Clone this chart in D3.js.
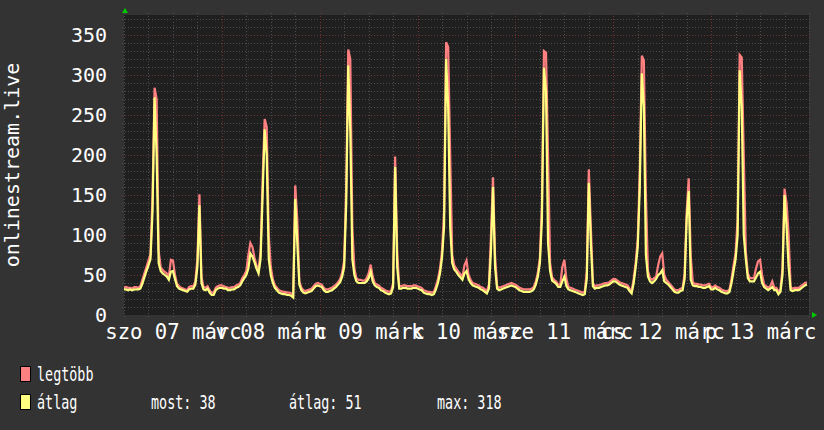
<html lang="hu">
<head>
<meta charset="utf-8">
<title>onlinestream.live</title>
<script type="text/javascript" src="https://cdnjs.cloudflare.com/ajax/libs/d3/7.8.5/d3.min.js"></script>
<style>
  body { margin: 0; background-color: #333333; }
  svg { display: block; }
  text { font-family: "DejaVu Sans Mono", monospace; fill: #ffffff; }
  .grid line { fill: none; shape-rendering: crispEdges; stroke-dasharray: 1,2; }
  .grid path { display: none; }
  .minor line { stroke: #4c4c4c; }
  .major line { stroke: #6e3232; }
  .axis path, .axis line { display: none; }
</style>
</head>
<body>
<script type="text/javascript">
// data: one value every 30 minutes, sat 07 march 00:00 -> fri 13 march ~23:30

var dayLabels = ["szo 07 márc", "v 08 márc", "h 09 márc", "k 10 márc", "sze 11 márc", "cs 12 márc", "p 13 márc"];
var yTicks = [0, 50, 100, 150, 200, 250, 300, 350];
var seriesNames = ["legtöbb", "átlag"];
var statLabels = ["most: 38", "átlag: 51", "max: 318"];

// átlag (average)
var avgValues = [
  32,32,31,32,31,32,32,32, 33,39,47,55,62,70,130,272, 200,65,55,52,50,48,44,54, 55,45,36,33,32,31,30,29, 32,33,33,38,60,137,40,32, 31,33,28,25,25,31,33,34,
  34,33,33,31,31,32,32,34, 35,37,42,46,50,58,77,73, 66,58,52,70,150,232,200,70, 50,40,34,31,28,27,26,26, 25,25,24,22,145,90,38,31, 28,27,28,29,30,33,36,37,
  36,35,31,29,29,30,31,33, 35,38,41,48,60,140,312,230, 70,50,42,40,40,40,40,42, 46,54,42,37,35,34,31,30, 28,27,26,27,35,185,60,33, 33,34,34,33,33,33,34,34,
  33,32,31,28,27,26,26,25, 26,32,40,52,72,110,320,260, 110,65,57,54,50,47,44,52, 55,45,40,37,36,35,34,32, 31,29,27,33,80,160,60,33, 31,32,33,34,35,36,37,36,
  35,33,31,30,29,29,29,29, 30,32,38,48,65,120,309,280, 90,55,43,41,39,35,35,42, 48,36,32,31,30,29,28,27, 26,25,26,45,165,90,36,33, 34,34,35,36,37,37,38,40,
  42,42,40,38,37,36,35,34, 30,27,40,60,85,160,302,260, 75,48,42,40,42,45,50,52, 56,42,40,38,35,32,29,28, 28,30,31,45,120,155,44,37, 36,36,35,35,34,34,35,36,
  32,32,34,32,31,29,28,27, 27,29,40,55,70,100,306,260, 100,70,46,42,42,42,47,52, 54,40,35,33,31,33,35,31, 31,26,29,50,150,110,60,31, 30,31,31,31,33,35,37,38
];

// legtöbb (maximum)
var maxValues = [
  34,35,34,34,33,35,35,34, 36,44,52,60,68,76,150,284, 270,80,60,56,54,52,48,69, 68,50,39,36,34,33,32,31, 35,36,36,42,70,151,48,35, 34,36,31,28,28,34,36,37,
  37,36,35,34,34,35,35,37, 38,40,46,50,55,75,90,85, 72,62,56,80,170,245,235,100, 60,45,37,34,31,30,29,29, 28,28,27,25,162,120,42,34, 31,30,31,32,33,36,39,40,
  39,38,34,32,32,33,34,36, 38,41,45,53,68,160,332,320, 110,58,46,44,44,43,43,46, 52,63,48,40,38,37,34,33, 31,30,29,30,40,198,80,36, 36,37,37,36,36,36,37,37,
  36,35,34,31,30,29,29,28, 29,36,45,58,80,130,341,335, 200,75,62,58,54,51,48,62, 68,50,44,40,39,38,37,35, 34,32,30,38,100,172,75,36, 34,35,36,37,38,39,40,39,
  38,36,34,33,32,32,32,32, 33,35,42,53,72,140,330,328, 200,65,47,44,42,38,38,60, 69,45,35,34,33,32,31,30, 29,28,29,55,182,110,40,36, 37,37,38,39,40,40,41,43,
  45,45,43,41,40,39,38,37, 33,30,45,66,95,180,324,318, 150,55,46,44,46,48,62,73, 77,50,44,41,38,35,32,31, 31,33,34,52,130,171,73,41, 39,39,38,38,37,37,38,39,
  35,35,37,35,34,32,31,30, 30,32,45,62,78,120,325,322, 200,80,52,46,46,46,58,67, 69,50,38,36,34,36,42,34, 34,29,32,58,158,140,100,34, 33,34,34,34,36,38,40,41
];

var colors = ["#ff8080", "#ffff80"];

var fullWidth = 824;
var fullHeight = 430;
var margin = {top: 15, right: 15, bottom: 115, left: 124};
var width = fullWidth - margin.left - margin.right;
var height = fullHeight - margin.top - margin.bottom;

var svg = d3.select("body")
            .append("svg")
            .attr("width", fullWidth)
            .attr("height", fullHeight);

svg.append("rect")
   .attr("width", fullWidth)
   .attr("height", fullHeight)
   .attr("fill", "#333333");

var g = svg.append("g")
           .attr("transform", "translate(" + margin.left + "," + margin.top + ")");

g.append("rect")
 .attr("width", width)
 .attr("height", height)
 .attr("fill", "#1f1f1f");

// x in hours from the start, y in listeners
var xScale = d3.scaleLinear().domain([0, 168]).range([0, width]);
var yScale = d3.scaleLinear().domain([0, 375]).range([height, 0]);

// grid (sticks out 2px on each side like rrdtool)
g.append("g")
 .attr("class", "grid minor")
 .attr("transform", "translate(-2,0)")
 .call(d3.axisLeft(yScale).tickValues(d3.range(10, 380, 10)).tickSize(-(width + 4)).tickFormat(""));
g.append("g")
 .attr("class", "grid minor")
 .attr("transform", "translate(0," + (height + 2) + ")")
 .call(d3.axisBottom(xScale).tickValues(d3.range(0, 169, 6)).tickSize(-(height + 4)).tickFormat(""));
g.append("g")
 .attr("class", "grid major")
 .attr("transform", "translate(-2,0)")
 .call(d3.axisLeft(yScale).tickValues(d3.range(50, 380, 50)).tickSize(-(width + 4)).tickFormat(""));
g.append("g")
 .attr("class", "grid major")
 .attr("transform", "translate(0," + (height + 2) + ")")
 .call(d3.axisBottom(xScale).tickValues(d3.range(24, 168, 24)).tickSize(-(height + 4)).tickFormat(""));

// lines
g.append("clipPath").attr("id", "clip")
 .append("rect").attr("width", width).attr("height", height);

var line = d3.line()
             .x(function(d, i) { return xScale(i * 0.5); })
             .y(function(d) { return yScale(d); });

g.append("g")
 .attr("clip-path", "url(#clip)")
 .selectAll(".series")
 .data([maxValues, avgValues]).enter()
 .append("path")
 .attr("class", "series")
 .attr("fill", "none")
 .attr("stroke", function(d, i) { return colors[i]; })
 .attr("stroke-width", 2.2)
 .attr("d", line);

// axis labels
var yAxis = g.append("g")
             .attr("class", "axis")
             .attr("transform", "translate(-17,0)")
             .call(d3.axisLeft(yScale).tickValues(yTicks).tickSize(0).tickPadding(0));
yAxis.selectAll("text")
     .attr("dy", "0.32em")
     .style("font-size", "20px")
     .style("font-family", "DejaVu Sans Mono")
     .attr("fill", "#ffffff");

var xAxis = g.append("g")
             .attr("class", "axis")
             .attr("transform", "translate(0," + (height + 9) + ")")
             .call(d3.axisBottom(xScale)
                     .tickValues(dayLabels.map(function(d, i) { return 12 + i * 24; }))
                     .tickFormat(function(d, i) { return dayLabels[i]; })
                     .tickSize(0).tickPadding(0));
xAxis.selectAll("text")
     .style("font-size", "20.6px")
     .style("font-family", "DejaVu Sans Mono")
     .attr("fill", "#ffffff");

// vertical title
svg.append("text")
   .attr("transform", "translate(19," + (margin.top + height / 2) + ") rotate(-90)")
   .attr("text-anchor", "middle")
   .style("font-size", "20px")
   .text("onlinestream.live");

// green arrows at the axis ends
var x0 = margin.left, y0 = margin.top + height, x1 = margin.left + width, y1 = margin.top;
svg.append("path")
   .attr("d", "M" + (x0 + 1) + "," + (y1 - 7) + "L" + (x0 - 2) + "," + (y1 - 2) + "L" + (x0 + 4) + "," + (y1 - 2) + "Z")
   .attr("fill", "#00cc00");
svg.append("path")
   .attr("d", "M" + (x1 + 3) + "," + (y0 - 3) + "L" + (x1 + 8) + "," + y0 + "L" + (x1 + 3) + "," + (y0 + 3) + "Z")
   .attr("fill", "#00cc00");

// legend
var legend = svg.append("g").attr("class", "legend");
legend.selectAll("rect")
      .data(seriesNames).enter()
      .append("rect")
      .attr("x", 20.5)
      .attr("y", function(d, i) { return 366.5 + i * 28; })
      .attr("width", 10)
      .attr("height", 15)
      .attr("fill", function(d, i) { return colors[i]; })
      .attr("stroke", "#000000");
legend.selectAll(".name")
      .data(seriesNames).enter()
      .append("text")
      .attr("class", "name")
      .attr("transform", function(d, i) { return "translate(37," + (381 + i * 28) + ") scale(0.67,1)"; })
      .style("font-size", "20px")
      .text(function(d) { return d; });
legend.selectAll(".stat")
      .data(statLabels).enter()
      .append("text")
      .attr("class", "stat")
      .attr("transform", function(d, i) { return "translate(" + [151, 289, 437][i] + ",409) scale(0.67,1)"; })
      .style("font-size", "20px")
      .text(function(d) { return d; });
</script>
</body>
</html>
